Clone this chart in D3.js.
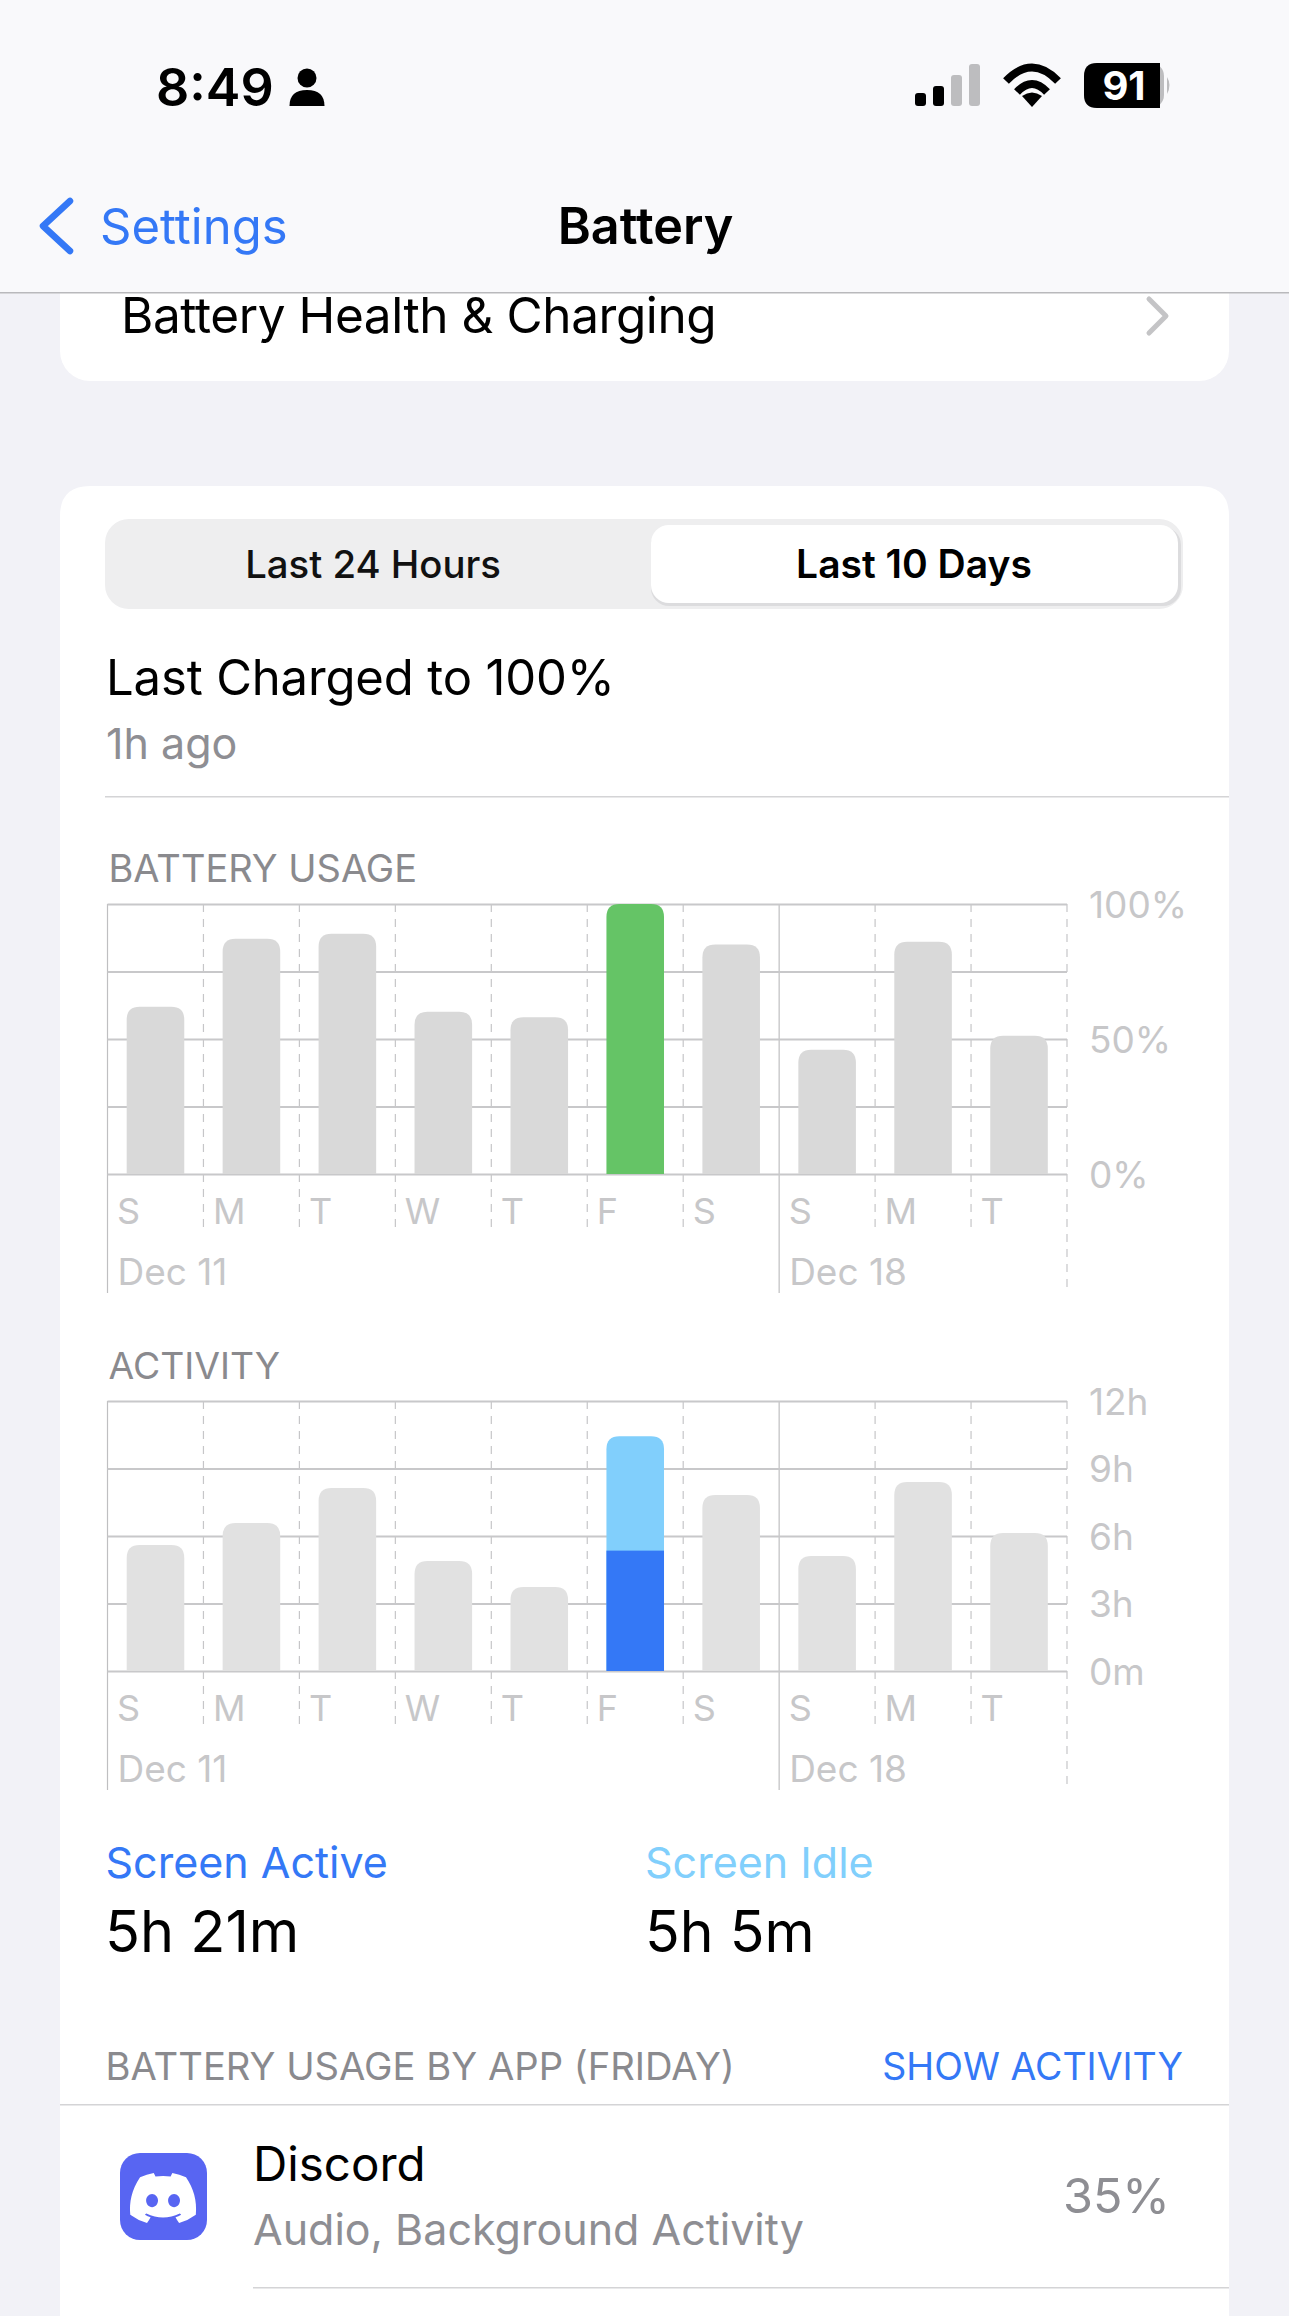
<!DOCTYPE html>
<html>
<head>
<meta charset="utf-8">
<script src="https://cdn.jsdelivr.net/npm/d3@7"></script>
<style>
  body { margin: 0; background: #f2f2f7; }
  svg { display: block; }
  text { font-family: Inter, "Noto Sans", sans-serif; }
</style>
</head>
<body>
<div id="chart"></div>
<script>
// values

var days = ['S', 'M', 'T', 'W', 'T', 'F', 'S', 'S', 'M', 'T'];
var weekLabels = [{ col: 0, label: 'Dec 11' }, { col: 7, label: 'Dec 18' }];

var usagePercent = [61.9, 87.1, 89, 60.1, 58.1, 100, 85, 46, 86, 51.2];
var usageTicks = [0, 50, 100];
var usageGrid = [0, 25, 50, 75, 100];

var activityHours = [5.6, 6.58, 8.13, 4.89, 3.73, 10.43, 7.82, 5.11, 8.4, 6.13];
var activityTicks = [0, 3, 6, 9, 12];

var selectedDay = 5;
var fridayActive = 5.35;
var fridayIdle = 5.08;

var W = 1289, H = 2316;
var BLUE = '#3478f6', SKY = '#81cffc', GREEN = '#65c466';

var svg = d3.select('#chart').append('svg').attr('width', W).attr('height', H);

// HELPER FUNCTIONS

var label = function(parent, x, y, txt, size, color, opts){
  opts = opts || {};
  return parent.append('text')
    .attr('x', x)
    .attr('y', y)
    .attr('font-size', size)
    .attr('fill', color)
    .attr('font-weight', opts.weight || 400)
    .attr('letter-spacing', opts.spacing || 0)
    .attr('text-anchor', opts.anchor || 'start')
    .text(txt);
}

var topRounded = function(x, y, w, h, r){
  r = Math.min(r, h);
  return 'M' + x + ',' + (y + h) + 'V' + (y + r) +
    'Q' + x + ',' + y + ' ' + (x + r) + ',' + y +
    'H' + (x + w - r) +
    'Q' + (x + w) + ',' + y + ' ' + (x + w) + ',' + (y + r) +
    'V' + (y + h) + 'Z';
}

// PAGE CHROME

var drawChrome = function(){
  svg.append('rect').attr('width', W).attr('height', H).attr('fill', '#f2f2f7');

  // first card, scrolled under the header
  svg.append('rect').attr('x', 60).attr('y', 200).attr('width', 1169).attr('height', 181).attr('rx', 30).attr('fill', '#fff');
  label(svg, 121, 333, 'Battery Health & Charging', 49.5, '#000', { spacing: -0.42 });
  svg.append('path').attr('d', 'M1149,299L1166,316L1149,333').attr('fill', 'none')
    .attr('stroke', '#c4c4c6').attr('stroke-width', 5).attr('stroke-linecap', 'round').attr('stroke-linejoin', 'round');

  // main card
  svg.append('path').attr('d', 'M60,2316V516Q60,486 90,486H1199Q1229,486 1229,516V2316Z').attr('fill', '#fff');

  // header
  svg.append('rect').attr('width', W).attr('height', 292).attr('fill', '#f9f9fb');
  svg.append('rect').attr('y', 292).attr('width', W).attr('height', 1.5).attr('fill', '#b9b9bc');

  label(svg, 156, 106, '8:49', 52, '#000', { weight: 600 });
  svg.append('circle').attr('cx', 307).attr('cy', 78).attr('r', 9.5).attr('fill', '#000');
  svg.append('path').attr('d', 'M289.5,106Q289.5,90 307,90Q324.5,90 324.5,106Z').attr('fill', '#000');

  var signalBars = [{ x: 915, h: 13, c: '#000' }, { x: 933, h: 20, c: '#000' }, { x: 951, h: 31, c: '#bdbdbf' }, { x: 969, h: 42, c: '#bdbdbf' }];
  signalBars.forEach(function(b){
    svg.append('rect').attr('x', b.x).attr('y', 106 - b.h).attr('width', 11).attr('height', b.h).attr('rx', 3).attr('fill', b.c);
  });

  // wifi
  var wifi = svg.append('g').attr('fill', 'none').attr('stroke', '#000').attr('stroke-width', 8);
  wifi.append('path').attr('d', 'M1006,81Q1032,54 1058,81');
  wifi.append('path').attr('d', 'M1017,92Q1032,76 1047,92');
  svg.append('path').attr('d', 'M1032,107L1022,96Q1032,89 1042,96Z').attr('fill', '#000');

  // battery
  svg.append('rect').attr('x', 1084).attr('y', 63).attr('width', 80).attr('height', 45).attr('rx', 13).attr('fill', '#bdbdbf');
  svg.append('path').attr('d', 'M1097,63H1160V108H1097Q1084,108 1084,95V76Q1084,63 1097,63Z').attr('fill', '#000');
  svg.append('path').attr('d', 'M1167,77Q1172,85 1167,94Z').attr('fill', '#bdbdbf');
  label(svg, 1124, 100, '91', 40, '#fff', { weight: 700, anchor: 'middle' });

  // nav
  svg.append('path').attr('d', 'M70,201L43,226L70,251').attr('fill', 'none').attr('stroke', BLUE)
    .attr('stroke-width', 6.5).attr('stroke-linecap', 'round').attr('stroke-linejoin', 'round');
  label(svg, 100, 244, 'Settings', 49, BLUE);
  label(svg, 645.5, 244, 'Battery', 50.3, '#000', { weight: 600, anchor: 'middle' });

  // segmented control
  svg.append('rect').attr('x', 105).attr('y', 519).attr('width', 1078).attr('height', 90).attr('rx', 24).attr('fill', '#eeeeef');
  svg.append('rect').attr('x', 651).attr('y', 527).attr('width', 530).attr('height', 79).attr('rx', 18).attr('fill', '#dcdcde');
  svg.append('rect').attr('x', 651).attr('y', 525).attr('width', 527).attr('height', 78).attr('rx', 18).attr('fill', '#fff');
  label(svg, 373, 578, 'Last 24 Hours', 38.3, '#111', { anchor: 'middle', weight: 500 });
  label(svg, 914, 578, 'Last 10 Days', 39, '#000', { anchor: 'middle', weight: 600 });

  label(svg, 106, 695, 'Last Charged to 100%', 49, '#000', { spacing: -0.15 });
  label(svg, 106, 759, '1h ago', 43, '#8e8e93');
  svg.append('rect').attr('x', 105).attr('y', 796).attr('width', 1124).attr('height', 1.5).attr('fill', '#d4d4d6');
}

// CHARTS

var drawChart = function(opts){
  var g = svg.append('g');
  var left = 107.5, right = 1067;
  var x = d3.scaleBand().domain(d3.range(days.length)).range([left, right]);
  var bars = d3.scaleBand().domain(d3.range(days.length)).range([left, right]).paddingInner(0.4).paddingOuter(0.2);
  var y = d3.scaleLinear().domain(opts.domain).range([opts.bottom, opts.top]);

  label(g, 108.5, opts.top - 22, opts.title, opts.titleSize, '#8a8a8e');

  // vertical separators, one at each column start plus the closing one
  var edges = d3.range(days.length + 1);
  g.selectAll('.sep').data(edges).enter().append('line')
    .attr('class', 'sep')
    .attr('x1', function(d){ return left + d * x.step(); })
    .attr('x2', function(d){ return left + d * x.step(); })
    .attr('y1', opts.top)
    .attr('y2', function(d, i){
      if (i === 0 || i === 7) return opts.bottom + 119;
      return i === 10 ? opts.bottom + 114 : opts.bottom + 54;
    })
    .attr('stroke', function(d, i){ return (i === 0 || i === 7) ? '#bfbfc1' : '#c6c6c8'; })
    .attr('stroke-width', 1.2)
    .attr('stroke-dasharray', function(d, i){ return (i === 0 || i === 7) ? null : '8,7'; });

  // horizontal grid
  var grid = d3.axisRight(y).tickValues(opts.grid).tickSize(right - left).tickFormat('');
  var gridG = g.append('g').attr('transform', 'translate(' + left + ',0)').call(grid);
  gridG.select('.domain').remove();
  gridG.selectAll('line').attr('stroke', '#c8c8ca').attr('stroke-width', 2);

  // bars
  g.selectAll('.bar').data(opts.values).enter().append('path')
    .attr('class', 'bar')
    .attr('fill', function(d, i){ return (i === selectedDay && opts.selected) ? opts.selected : opts.barColor; })
    .attr('d', function(d, i){ return topRounded(bars(i), y(d), bars.bandwidth(), opts.bottom - y(d), 13); });

  if (opts.lower) {
    g.append('rect')
      .attr('x', bars(selectedDay))
      .attr('y', y(opts.lower.value))
      .attr('width', bars.bandwidth())
      .attr('height', opts.bottom - y(opts.lower.value))
      .attr('fill', opts.lower.color);
  }

  // y labels
  var yAxis = d3.axisRight(y).tickValues(opts.ticks).tickSize(0).tickFormat(opts.format);
  var yG = g.append('g').attr('transform', 'translate(' + (right + 22) + ',0)').call(yAxis);
  yG.select('.domain').remove();
  yG.selectAll('text')
    .attr('x', 0)
    .attr('dy', 13)
    .attr('font-size', 37)
    .attr('fill', '#c7c7c9')
    .style('font-family', 'Inter');

  // day labels
  var xAxis = d3.axisBottom(x).tickSize(0).tickFormat(function(i){ return days[i]; });
  var xG = g.append('g').attr('transform', 'translate(0,' + opts.bottom + ')').call(xAxis);
  xG.select('.domain').remove();
  xG.selectAll('text')
    .attr('text-anchor', 'start')
    .attr('x', -x.bandwidth() / 2 + 9.5)
    .attr('y', 50)
    .attr('dy', 0)
    .attr('font-size', 36)
    .attr('fill', '#c7c7c9')
    .style('font-family', 'Inter');

  weekLabels.forEach(function(w){
    label(g, left + w.col * x.step() + 10, opts.bottom + 110.5, w.label, 37, '#c7c7c9');
  });
}

var initialize = function(){
  drawChrome();

  drawChart({
    title: 'BATTERY USAGE',
    titleSize: 38,
    top: 904, bottom: 1174,
    domain: [0, 100],
    values: usagePercent,
    grid: usageGrid,
    ticks: usageTicks,
    format: function(d){ return d + '%'; },
    barColor: '#d9d9d9',
    selected: GREEN
  });

  drawChart({
    title: 'ACTIVITY',
    titleSize: 37.3,
    top: 1401, bottom: 1671,
    domain: [0, 12],
    values: activityHours,
    grid: activityTicks,
    ticks: activityTicks,
    format: function(d){ return d === 0 ? '0m' : d + 'h'; },
    barColor: '#e1e1e1',
    selected: SKY,
    lower: { value: fridayActive, color: BLUE }
  });

  label(svg, 105.5, 1878, 'Screen Active', 43, BLUE);
  label(svg, 645, 1878, 'Screen Idle', 43, SKY);
  label(svg, 105, 1952, '5h 21m', 57.6, '#000');
  label(svg, 645, 1952, '5h 5m', 57.2, '#000');

  label(svg, 105.5, 2080, 'BATTERY USAGE BY APP (FRIDAY)', 38.2, '#8a8a8e');
  label(svg, 1183, 2080, 'SHOW ACTIVITY', 37.5, BLUE, { anchor: 'end' });
  svg.append('rect').attr('x', 60).attr('y', 2104).attr('width', 1169).attr('height', 1.5).attr('fill', '#d4d4d6');

  // discord row
  svg.append('rect').attr('x', 120).attr('y', 2153).attr('width', 87).attr('height', 87).attr('rx', 20).attr('fill', '#5865f2');
  svg.append('path')
    .attr('transform', 'translate(130,2173) scale(0.52)')
    .attr('fill', '#fff')
    .attr('d', 'M107.7,8.07A105.15,105.15,0,0,0,81.47,0a72.06,72.06,0,0,0-3.36,6.83A97.68,97.68,0,0,0,49,6.83,72.37,72.37,0,0,0,45.64,0,105.89,105.89,0,0,0,19.39,8.09C2.79,32.65-1.71,56.6.54,80.21h0A105.73,105.73,0,0,0,32.71,96.36,77.7,77.7,0,0,0,39.6,85.25a68.42,68.42,0,0,1-10.85-5.18c.91-.66,1.8-1.34,2.66-2a75.57,75.57,0,0,0,64.32,0c.87.71,1.76,1.39,2.66,2a68.68,68.68,0,0,1-10.87,5.19,77,77,0,0,0,6.89,11.1A105.25,105.25,0,0,0,126.6,80.22h0C129.24,52.84,122.09,29.11,107.7,8.07ZM42.45,65.69C36.18,65.69,31,60,31,53s5-12.74,11.43-12.74S54,46,53.89,53,48.84,65.69,42.45,65.69Zm42.24,0C78.41,65.69,73.25,60,73.25,53s5-12.74,11.44-12.74S96.23,46,96.12,53,91.08,65.69,84.69,65.69Z');
  label(svg, 253, 2181, 'Discord', 47.5, '#000');
  label(svg, 253, 2245, 'Audio, Background Activity', 43, '#8e8e93');
  label(svg, 1170, 2213, '35%', 48.5, '#8e8e93', { anchor: 'end' });
  svg.append('rect').attr('x', 253).attr('y', 2287).attr('width', 976).attr('height', 1.5).attr('fill', '#d4d4d6');
}

initialize();
</script>
</body>
</html>
